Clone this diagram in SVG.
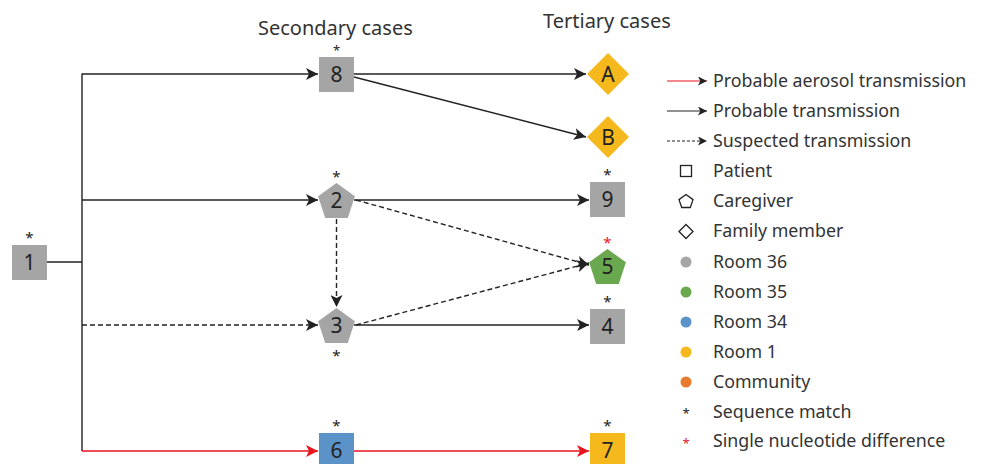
<svg xmlns="http://www.w3.org/2000/svg" width="984" height="464" viewBox="0 0 984 464">
<style>
text{font-family:"Noto Sans","Liberation Sans",sans-serif;fill:#333}
.t{font-size:20px}
.lg{font-size:17.8px}
.n{font-size:21px;text-anchor:middle;fill:#222}
.s{font-size:15px;text-anchor:middle;fill:#222}
.sr{font-size:15px;text-anchor:middle;fill:#e8141e}
.k{stroke:#222;stroke-width:1.4;fill:none}
.d{stroke:#222;stroke-width:1.4;fill:none;stroke-dasharray:5,3}
.r{stroke:#e8141e;stroke-width:1.4;fill:none}
.gray{fill:#a5a5a5}
</style>
<defs>
<marker id="ak" viewBox="0 0 10 10" refX="10" refY="5" markerWidth="9" markerHeight="9" markerUnits="userSpaceOnUse" orient="auto"><path d="M0,0 L10,5 L0,10 L2.5,5 Z" fill="#222"/></marker>
<marker id="akl" viewBox="0 0 10 10" refX="10" refY="5" markerWidth="12" markerHeight="12" markerUnits="userSpaceOnUse" orient="auto"><path d="M0,0 L10,5 L0,10 L2.5,5 Z" fill="#222"/></marker>
<marker id="ar" viewBox="0 0 10 10" refX="10" refY="5" markerWidth="12" markerHeight="12" markerUnits="userSpaceOnUse" orient="auto"><path d="M0,0 L10,5 L0,10 L2.5,5 Z" fill="#e8141e"/></marker>
<path id="pent" d="M0,-19.3 L18.4,-6 L11.3,15.6 L-11.3,15.6 L-18.4,-6 Z"/>
<path id="dia" d="M0,-21 L21,0 L0,21 L-21,0 Z"/>
</defs>
<text class="t" x="258" y="35">Secondary cases</text>
<text class="t" x="543" y="28">Tertiary cases</text>
<g id="connectors">
<path class="k" d="M47,262 H82 M82,73.5 V451"/>
<path class="k" d="M82,74 H318" marker-end="url(#akl)"/>
<path class="k" d="M82,200 H318" marker-end="url(#akl)"/>
<path class="d" d="M82,325 H318" marker-end="url(#akl)"/>
<path class="r" d="M82,451 H318" marker-end="url(#ar)"/>
<path class="k" d="M354,74 H586" marker-end="url(#akl)"/>
<path class="k" d="M354,77 L586,137" marker-end="url(#akl)"/>
<path class="k" d="M354,200 H589" marker-end="url(#akl)"/>
<path class="d" d="M356,200 L589,265" marker-end="url(#akl)"/>
<path class="d" d="M336.5,219 V307" marker-end="url(#akl)"/>
<path class="d" d="M356,325 L589,263" marker-end="url(#akl)"/>
<path class="k" d="M354,325 H589" marker-end="url(#akl)"/>
<path class="r" d="M354,451 H589" marker-end="url(#ar)"/>
</g>
<g id="node1"><rect class="gray" x="12" y="245" width="35" height="35"/><text class="n" x="29.5" y="270">1</text><text class="s" x="29.5" y="243">*</text></g>
<g id="node8"><rect class="gray" x="319" y="57" width="35" height="35"/><text class="n" x="336.5" y="82">8</text><text class="s" x="336.5" y="55" style="font-size:13px">*</text></g>
<g id="nodeA"><use href="#dia" x="608" y="74" fill="#f5b91e"/><text class="n" x="608" y="81.5">A</text></g>
<g id="nodeB"><use href="#dia" x="608" y="137" fill="#f5b91e"/><text class="n" x="608" y="144.5">B</text></g>
<g id="node2"><use href="#pent" x="336.5" y="202.3" class="gray"/><text class="n" x="336.5" y="208">2</text><text class="s" x="336.5" y="182">*</text></g>
<g id="node9"><rect class="gray" x="590" y="182" width="35" height="35"/><text class="n" x="607.5" y="207">9</text><text class="s" x="607.5" y="180">*</text></g>
<g id="node5"><use href="#pent" x="607.5" y="268.3" fill="#6aa84f"/><text class="n" x="607.5" y="274">5</text><text class="sr" x="607.5" y="248">*</text></g>
<g id="node3"><use href="#pent" x="336.5" y="327.3" class="gray"/><text class="n" x="336.5" y="333">3</text><text class="s" x="336.5" y="361">*</text></g>
<g id="node4"><rect class="gray" x="590" y="309" width="35" height="35"/><text class="n" x="607.5" y="334">4</text><text class="s" x="607.5" y="307">*</text></g>
<g id="node6"><rect x="319" y="433" width="35" height="35" fill="#5b93c9"/><text class="n" x="336.5" y="458">6</text><text class="s" x="336.5" y="431">*</text></g>
<g id="node7"><rect x="590" y="433" width="35" height="35" fill="#f5b91e"/><text class="n" x="607.5" y="458">7</text><text class="s" x="607.5" y="431">*</text></g>
<g id="legend">
<path class="r" d="M667,81 H707" marker-end="url(#ak)" style="stroke-width:1.2"/>
<path class="k" d="M667,111 H707" marker-end="url(#ak)" style="stroke-width:1.2"/>
<path class="d" d="M667,141 H707" marker-end="url(#ak)" style="stroke-width:1.2;stroke-dasharray:3,2"/>
<rect x="680.5" y="165.5" width="11" height="11" fill="none" stroke="#222" stroke-width="1.3"/>
<path d="M686,194.5 L693,199.6 L690.3,207.5 L681.7,207.5 L679,199.6 Z" fill="none" stroke="#222" stroke-width="1.3"/>
<path d="M686,224.5 L693,231.5 L686,238.5 L679,231.5 Z" fill="none" stroke="#222" stroke-width="1.3"/>
<circle cx="686" cy="262" r="5.5" fill="#a5a5a5"/>
<circle cx="686" cy="292" r="5.5" fill="#6aa84f"/>
<circle cx="686" cy="322" r="5.5" fill="#5b93c9"/>
<circle cx="686" cy="352" r="5.5" fill="#f5b91e"/>
<circle cx="686" cy="382" r="5.5" fill="#e8792f"/>
<text class="s" x="686" y="418" style="font-size:13px">*</text>
<text class="sr" x="686" y="448" style="font-size:13px">*</text>
<text class="lg" x="713" y="87">Probable aerosol transmission</text>
<text class="lg" x="713" y="117">Probable transmission</text>
<text class="lg" x="713" y="147">Suspected transmission</text>
<text class="lg" x="713" y="177">Patient</text>
<text class="lg" x="713" y="207">Caregiver</text>
<text class="lg" x="713" y="237">Family member</text>
<text class="lg" x="713" y="268">Room 36</text>
<text class="lg" x="713" y="298">Room 35</text>
<text class="lg" x="713" y="328">Room 34</text>
<text class="lg" x="713" y="358">Room 1</text>
<text class="lg" x="713" y="388">Community</text>
<text class="lg" x="713" y="418">Sequence match</text>
<text class="lg" x="713" y="447">Single nucleotide difference</text>
</g>
</svg>
